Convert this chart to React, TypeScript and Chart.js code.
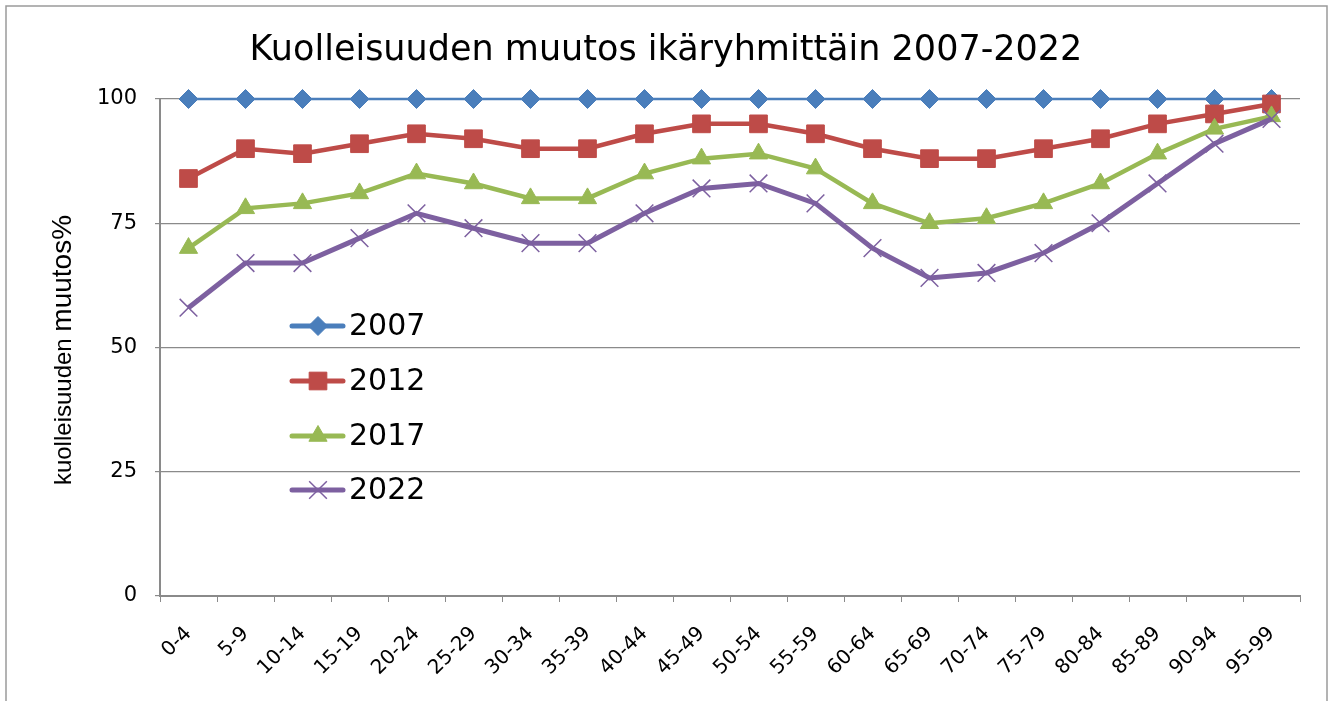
import React, { useEffect, useRef } from "react";
import { Chart, registerables } from "chart.js";

Chart.register(...registerables);

const ageGroups = ["0-4", "5-9", "10-14", "15-19", "20-24", "25-29", "30-34", "35-39", "40-44", "45-49", "50-54", "55-59", "60-64", "65-69", "70-74", "75-79", "80-84", "85-89", "90-94", "95-99"];
const years = ["2007", "2012", "2017", "2022"];
const values2007 = [100, 100, 100, 100, 100, 100, 100, 100, 100, 100, 100, 100, 100, 100, 100, 100, 100, 100, 100, 100];
const values2012 = [84, 90, 89, 91, 93, 92, 90, 90, 93, 95, 95, 93, 90, 88, 88, 90, 92, 95, 97, 99];
const values2017 = [70, 78, 79, 81, 85, 83, 80, 80, 85, 88, 89, 86, 79, 75, 76, 79, 83, 89, 94, 96.5];
const values2022 = [58, 67, 67, 72, 77, 74, 71, 71, 77, 82, 83, 79, 70, 64, 65, 69, 75, 83, 91, 96];
const yTickValues = [0, 25, 50, 75, 100];

const titleText = "Kuolleisuuden muutos ikäryhmittäin 2007-2022";
const yTitlePart1 = "kuolleisuuden ";
const yTitlePart2 = "muutos%";

const seriesColors = ["#4A7EBB", "#BE4B48", "#98B954", "#7D60A0"];
const seriesStyles = ["rectRot", "rect", "triangle", "crossRot"];
const seriesLineWidths = [2.5, 4.5, 4.5, 5];
const seriesRadii = [9.5, 12.5, 10.5, 12.5];
const seriesPointBorder = [1, 1, 1, 1.5];

const FONT = "'DejaVu Sans', sans-serif";

function drawMarker(ctx: CanvasRenderingContext2D, style: string, r: number, x: number, y: number) {
  ctx.beginPath();
  if (style === "rectRot") {
    ctx.moveTo(x, y - r);
    ctx.lineTo(x + r, y);
    ctx.lineTo(x, y + r);
    ctx.lineTo(x - r, y);
    ctx.closePath();
    ctx.fill();
    ctx.stroke();
  } else if (style === "rect") {
    const s = Math.SQRT1_2 * r;
    ctx.rect(x - s, y - s, 2 * s, 2 * s);
    ctx.fill();
    ctx.stroke();
  } else if (style === "triangle") {
    ctx.moveTo(x, y - r);
    ctx.lineTo(x + r * Math.sin(Math.PI / 3), y + r * 0.5);
    ctx.lineTo(x - r * Math.sin(Math.PI / 3), y + r * 0.5);
    ctx.closePath();
    ctx.fill();
    ctx.stroke();
  } else {
    const d = Math.SQRT1_2 * r;
    ctx.moveTo(x - d, y - d);
    ctx.lineTo(x + d, y + d);
    ctx.moveTo(x + d, y - d);
    ctx.lineTo(x - d, y + d);
    ctx.stroke();
  }
}

const decorPlugin = {
  id: "decor",
  beforeDraw(chart: any) {
    const ctx = chart.ctx;
    ctx.save();
    ctx.fillStyle = "#ffffff";
    ctx.fillRect(0, 0, chart.width, chart.height);
    ctx.strokeStyle = "#9a9a9a";
    ctx.lineWidth = 1.5;
    ctx.strokeRect(6, 6, 1321, 700);
    ctx.restore();
  },
  afterDraw(chart: any) {
    const ctx = chart.ctx;
    ctx.save();
    // title
    ctx.fillStyle = "#000000";
    ctx.font = `35px ${FONT}`;
    ctx.textAlign = "center";
    ctx.textBaseline = "alphabetic";
    ctx.fillText(titleText, 666, 60);
    // y axis title
    ctx.save();
    ctx.translate(71, 350);
    ctx.rotate(-Math.PI / 2);
    const f1 = "24px 'Liberation Sans Narrow', sans-serif";
    const f2 = "28px 'Liberation Sans Narrow', sans-serif";
    ctx.font = f1;
    const w1 = ctx.measureText(yTitlePart1).width;
    ctx.font = f2;
    const w2 = ctx.measureText(yTitlePart2).width;
    const start = -(w1 + w2) / 2;
    ctx.textAlign = "left";
    ctx.font = f1;
    ctx.fillText(yTitlePart1, start, 0);
    ctx.font = f2;
    ctx.fillText(yTitlePart2, start + w1, 0);
    ctx.restore();
    // legend
    const legendY = [326, 381, 436, 490];
    chart.data.datasets.forEach((ds: any, i: number) => {
      const y = legendY[i];
      ctx.strokeStyle = ds.borderColor;
      ctx.lineWidth = 5;
      ctx.lineCap = "round";
      ctx.beginPath();
      ctx.moveTo(292, y);
      ctx.lineTo(343, y);
      ctx.stroke();
      ctx.fillStyle = ds.borderColor;
      ctx.strokeStyle = ds.borderColor;
      ctx.lineWidth = ds.pointBorderWidth;
      ctx.lineCap = "butt";
      drawMarker(ctx, ds.pointStyle, ds.pointRadius, 318, y);
      ctx.fillStyle = "#000000";
      ctx.font = `30px ${FONT}`;
      ctx.textAlign = "left";
      ctx.textBaseline = "middle";
      ctx.fillText(ds.label, 349, y + 1);
    });
    ctx.restore();
  },
};

export default function App() {
  const canvasRef = useRef<HTMLCanvasElement | null>(null);

  useEffect(() => {
    document.body.style.margin = "0";
    const canvas = canvasRef.current;
    if (!canvas) return;
    const seriesValues = [values2007, values2012, values2017, values2022];
    const chart = new Chart(canvas, {
      type: "line",
      data: {
        labels: ageGroups,
        datasets: years.map((year, i) => ({
          label: year,
          data: seriesValues[i],
          borderColor: seriesColors[i],
          backgroundColor: seriesColors[i],
          pointBackgroundColor: seriesColors[i],
          pointBorderColor: seriesColors[i],
          borderWidth: seriesLineWidths[i],
          pointStyle: seriesStyles[i],
          pointRadius: seriesRadii[i],
          pointBorderWidth: seriesPointBorder[i],
          tension: 0,
          fill: false,
          clip: false,
          order: years.length - i,
        })),
      },
      options: {
        responsive: false,
        animation: false,
        devicePixelRatio: 1,
        layout: { padding: { left: 0, top: 99, right: 30, bottom: 0 } },
        plugins: {
          legend: { display: false },
          title: { display: false },
          tooltip: { enabled: false },
        },
        scales: {
          x: {
            type: "category",
            offset: true,
            grid: {
              display: true,
              drawOnChartArea: false,
              drawTicks: true,
              tickLength: 6,
              color: "#8a8a8a",
              offset: true,
            },
            border: { display: true, color: "#8a8a8a", width: 2 },
            ticks: {
              minRotation: 45,
              maxRotation: 45,
              autoSkip: false,
              padding: 20,
              color: "#000000",
              font: { family: FONT, size: 20 },
            },
            afterFit: (scale: any) => {
              scale.height = 105;
            },
          },
          y: {
            min: 0,
            max: 100,
            afterBuildTicks: (scale: any) => {
              scale.ticks = yTickValues.map((v) => ({ value: v }));
            },
            grid: {
              color: "#8a8a8a",
              lineWidth: 1.2,
              tickLength: 5,
              drawTicks: true,
            },
            border: { display: true, color: "#8a8a8a", width: 2 },
            ticks: {
              padding: 18,
              color: "#000000",
              font: { family: FONT, size: 21 },
            },
            afterFit: (scale: any) => {
              scale.width = 160;
            },
          },
        },
      },
      plugins: [decorPlugin],
    } as any);
    return () => chart.destroy();
  }, []);

  return (
    <div style={{ position: "fixed", left: 0, top: 0, width: 1330, height: 701 }}>
      <canvas ref={canvasRef} width={1330} height={701} />
    </div>
  );
}
